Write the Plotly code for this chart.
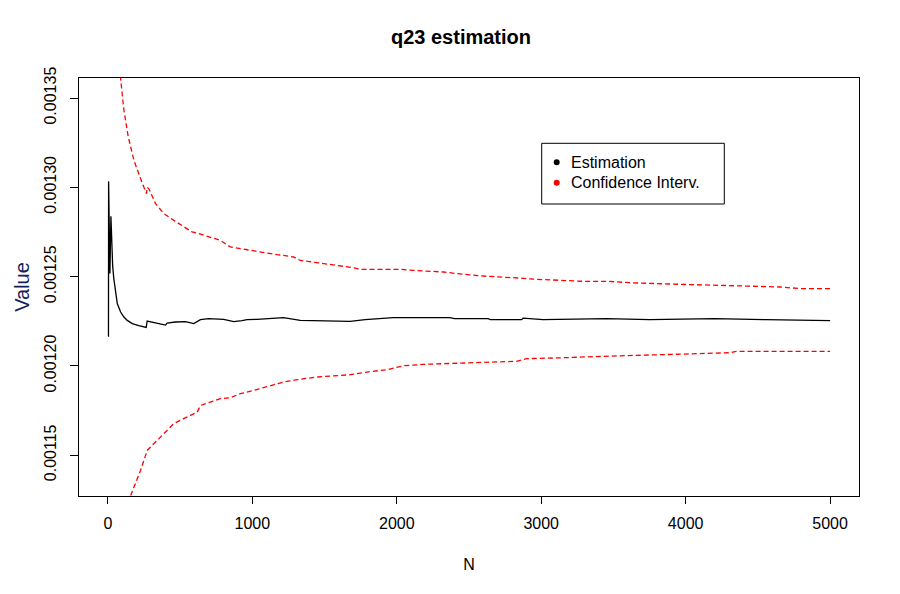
import plotly.graph_objects as go

# Estimation curve
est_n = [1, 4, 5, 14, 21, 26, 33, 41, 53, 65, 88, 111, 134, 169, 214, 265, 272,
         341, 399, 410, 468, 537, 594, 641, 698, 802, 871, 929, 963, 1032, 1216,
         1332, 1677, 1781, 1977, 2368, 2400, 2631, 2650, 2864, 2875, 3013, 3451,
         3750, 4200, 4557, 4833, 5000]
est_v = [0.0012167, 0.0012167, 0.0013034, 0.0012518, 0.0012838, 0.0012664,
         0.0012560, 0.0012489, 0.0012405, 0.0012349, 0.0012302, 0.0012274,
         0.0012255, 0.0012237, 0.0012226, 0.0012216, 0.0012251, 0.0012237,
         0.0012229, 0.0012240, 0.0012246, 0.0012248, 0.0012237, 0.0012259,
         0.0012265, 0.0012261, 0.0012248, 0.0012254, 0.0012259, 0.0012261,
         0.0012270, 0.0012255, 0.0012250, 0.0012259, 0.0012270, 0.0012270,
         0.0012265, 0.0012265, 0.0012259, 0.0012259, 0.0012268, 0.0012259,
         0.0012265, 0.0012259, 0.0012265, 0.0012259, 0.0012254, 0.0012254]

# upper confidence bound
up_n = [80, 88, 111, 141, 180, 226, 267, 272, 283, 330, 387, 456, 525, 583, 629,
        710, 779, 848, 917, 1032, 1171, 1216, 1285, 1332, 1447, 1562, 1700, 1746,
        2023, 2115, 2322, 2415, 2622, 2852, 2967, 3290, 3451, 3612, 3750, 3958,
        4165, 4499, 4649, 4799, 5000]
up_v = [0.0013670, 0.0013612, 0.0013432, 0.0013282, 0.0013152, 0.0013049,
        0.0012965, 0.0013000, 0.0012993, 0.0012909, 0.0012853, 0.0012815,
        0.0012778, 0.0012750, 0.0012741, 0.0012722, 0.0012703, 0.0012666,
        0.0012657, 0.0012638, 0.0012623, 0.0012619, 0.0012610, 0.0012591,
        0.0012578, 0.0012567, 0.0012550, 0.0012541, 0.0012541, 0.0012535,
        0.0012526, 0.0012517, 0.0012502, 0.0012492, 0.0012485, 0.0012474,
        0.0012474, 0.0012466, 0.0012461, 0.0012457, 0.0012453, 0.0012446,
        0.0012442, 0.0012433, 0.0012433]

# lower confidence bound
lo_n = [150, 157, 180, 226, 272, 318, 387, 456, 525, 618, 641, 710, 779, 848, 917,
        1009, 1102, 1216, 1309, 1447, 1677, 1793, 1931, 2000, 2046, 2184, 2438,
        2598, 2829, 2898, 3059, 3151, 3428, 3728, 3911, 4303, 4350, 5000]
lo_v = [0.0011230, 0.0011272, 0.0011321, 0.0011415, 0.0011527, 0.0011564,
        0.0011620, 0.0011677, 0.0011705, 0.0011741, 0.0011779, 0.0011798,
        0.0011817, 0.0011822, 0.0011845, 0.0011863, 0.0011885, 0.0011910,
        0.0011923, 0.0011938, 0.0011951, 0.0011966, 0.0011979, 0.0011994,
        0.0012001, 0.0012009, 0.0012016, 0.0012022, 0.0012026, 0.0012041,
        0.0012042, 0.0012046, 0.0012054, 0.0012061, 0.0012069, 0.0012074,
        0.0012082, 0.0012082]

x_ticks = [0, 1000, 2000, 3000, 4000, 5000]
y_ticks = [0.00115, 0.00120, 0.00125, 0.00130, 0.00135]

legend_names = ["Estimation", "Confidence Interv."]
legend_colors = ["black", "#ff0000"]

FONT = "Liberation Sans, Arial, sans-serif"
RED = "#ff0000"

# plot area in pixels (R's default margins at this size)
L, R, T, B = 79, 41, 78, 98
PW, PH = 900 - L - R, 594 - T - B


def px(x):  # page pixel -> paper x
    return (x - L) / PW


def py(y):  # page pixel -> paper y
    return 1 - (y - T) / PH


fig = go.Figure()
fig.add_trace(go.Scatter(x=est_n, y=est_v, mode="lines", name="Estimation",
                         line=dict(color="black", width=1.3)))
fig.add_trace(go.Scatter(x=up_n, y=up_v, mode="lines", name="Confidence Interv.",
                         line=dict(color=RED, width=1.3, dash="5px,3px")))
fig.add_trace(go.Scatter(x=lo_n, y=lo_v, mode="lines", name="Confidence Interv.",
                         line=dict(color=RED, width=1.3, dash="5px,3px")))

# legend box drawn like R's legend(): box, dots and labels
fig.add_shape(type="rect", xref="paper", yref="paper",
              x0=px(541.7), x1=px(724.3), y0=py(204), y1=py(143.3),
              line=dict(color="black", width=1), fillcolor="white", layer="above")
for i, (name, col) in enumerate(zip(legend_names, legend_colors)):
    yy = py(162.3 + 20.4 * i)
    fig.add_shape(type="circle", xref="paper", yref="paper",
                  xsizemode="pixel", ysizemode="pixel",
                  xanchor=px(556.7), yanchor=yy, x0=-3, x1=3, y0=-3, y1=3,
                  fillcolor=col, line=dict(color=col, width=0), layer="above")
    fig.add_annotation(x=px(568.5), y=yy, xref="paper", yref="paper",
                       text=name, showarrow=False, xanchor="left",
                       yanchor="middle", font=dict(size=16, color="black"))

fig.update_layout(
    width=900, height=594,
    margin=dict(l=L, r=R, t=T, b=B),
    paper_bgcolor="white", plot_bgcolor="white",
    font=dict(family=FONT, size=16, color="black"),
    showlegend=False,
    title=dict(text="<b>q23 estimation</b>", x=461 / 900, xref="container",
               xanchor="center", y=1 - 37 / 594, yanchor="middle",
               font=dict(size=20, color="black")),
    hovermode="closest",
)
fig.update_xaxes(range=[-200, 5200], tickvals=x_ticks, ticks="outside", ticklen=7,
                 tickcolor="black", showline=True, linecolor="black", linewidth=1,
                 mirror=True, showgrid=False, zeroline=False,
                 ticklabelstandoff=6,
                 title=dict(text="N", font=dict(size=16), standoff=27))
fig.update_yaxes(range=[0.0011272, 0.0013612], tickvals=y_ticks, tickformat=".5f",
                 tickangle=-90, ticks="outside", ticklen=8, tickcolor="black",
                 showline=True, linecolor="black", linewidth=1, mirror=True,
                 showgrid=False, zeroline=False, ticklabelstandoff=8,
                 title=dict(text="Value", font=dict(size=20, color="#14215a"),
                            standoff=6))

# the page gets no body margin so the 900x594 figure sits at the window origin
fig.write_html("out.html", config={"displayModeBar": False},
               post_script="document.body.style.margin='0';")
